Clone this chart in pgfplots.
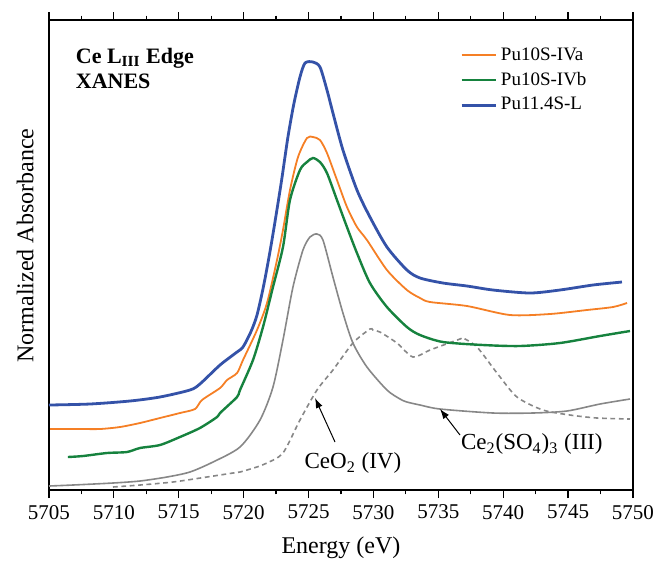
\documentclass[border=0pt]{standalone}
\usepackage{fontspec}
\setmainfont{Liberation Serif}
\usepackage{pgfplots}
\pgfplotsset{compat=1.18}
\usetikzlibrary{arrows.meta}
\definecolor{puorange}{RGB}{245,127,37}
\definecolor{pugreen}{RGB}{22,130,62}
\definecolor{publue}{RGB}{52,82,168}
\definecolor{refgray}{RGB}{135,135,135}

\begin{document}
\begin{tikzpicture}
\begin{axis}[
  width=292pt, height=235pt,
  scale only axis,
  xmin=5705, xmax=5750,
  ymin=0, ymax=470,
  xtick distance=5,
  minor x tick num=1,
  ytick=\empty,
  tick align=outside,
  xtick pos=both,
  major tick length=4pt,
  minor tick length=2.2pt,
  every tick/.style={black, line width=0.6pt},
  axis line style={line width=0.8pt},
  /pgf/number format/1000 sep={},
  /pgf/number format/assume math mode=true,
  ticklabel style={font=\fontsize{10.5}{12}\selectfont},
  xlabel={Energy (eV)},
  xlabel style={font=\fontsize{12}{14}\selectfont, at={(rel axis cs:0.5,-0.123)}, anchor=center},
  ylabel={Normalized Absorbance},
  ylabel style={font=\fontsize{12}{14}\selectfont, at={(rel axis cs:-0.041,0.52)}, anchor=center},
  legend cell align=left,
  legend style={draw=none, fill=none, at={(0.70,0.955)}, anchor=north west,
    font=\fontsize{9.5}{11}\selectfont, row sep=0.5pt, inner sep=1pt},
  legend image code/.code={\draw[#1] (0pt,0pt) -- (17pt,0pt);},
  every axis plot/.append style={smooth, tension=0.45},
]
% reference spectra (no legend entries)
\addplot[refgray, line width=0.8pt, forget plot] coordinates {
  (5705.0,4) (5706.85,5) (5709.93,7) (5712.01,9) (5714.09,13) (5715.86,18)
  (5717.64,28) (5719.72,43) (5721.26,70) (5722.26,103) (5723.03,150)
  (5723.80,203) (5724.57,240) (5725.11,253) (5725.65,256) (5726.11,250)
  (5726.88,213) (5727.65,177) (5728.42,147) (5729.50,123) (5731.04,100)
  (5732.05,91) (5732.58,88) (5733.59,85) (5735.13,81) (5739.21,77)
  (5742.29,77) (5744.91,79) (5747.46,86) (5749.77,91)};
\addplot[refgray, line width=0.8pt, dashed, dash pattern=on 2.4pt off 1.8pt, forget plot] coordinates {
  (5709.93,3) (5712.01,5) (5714.55,8) (5717.17,13) (5719.18,17) (5719.72,18)
  (5721.26,24) (5721.80,27) (5723.03,37) (5724.34,70) (5725.65,100)
  (5726.88,120) (5728.42,147) (5729.73,161) (5729.96,160) (5730.50,158)
  (5731.81,147) (5733.05,133) (5734.36,140) (5736.67,151) (5736.90,152)
  (5737.98,143) (5739.52,117) (5741.06,93) (5743.06,80) (5745.14,75)
  (5747.22,72) (5749.77,71)};
% sample spectra
\addplot[puorange, line width=0.9pt] coordinates {
  (5705.08,61) (5707.39,61) (5708.93,61) (5710.47,63) (5712.01,67)
  (5713.55,72) (5715.09,77) (5716.25,81) (5716.79,90) (5718.18,102)
  (5718.72,110) (5719.49,117) (5719.95,130) (5721.03,160) (5721.80,187)
  (5722.57,230) (5723.03,260) (5723.57,300) (5724.19,333) (5724.88,352)
  (5725.34,353) (5725.88,350) (5726.42,337) (5727.19,310) (5727.96,283)
  (5728.73,263) (5729.50,250) (5731.04,220) (5732.58,200) (5733.59,192)
  (5734.36,188) (5737.21,184) (5740.52,175) (5743.60,176) (5746.45,180)
  (5748.46,183) (5749.54,187)};
\addplot[pugreen, line width=1.2pt] coordinates {
  (5706.46,33) (5707.62,34) (5709.47,37) (5711.01,38) (5712.01,42)
  (5713.55,45) (5715.09,53) (5716.63,62) (5717.95,73) (5718.18,77)
  (5719.49,93) (5719.72,100) (5720.72,130) (5721.49,163) (5722.26,203)
  (5723.03,243) (5723.57,290) (5724.34,320) (5724.88,328) (5725.34,332)
  (5725.88,328) (5726.42,317) (5727.19,290) (5727.96,263) (5728.73,237)
  (5729.73,207) (5731.04,183) (5732.58,163) (5733.59,155) (5735.36,148)
  (5738.44,145) (5741.29,144) (5744.37,147) (5747.46,154) (5749.77,159)};
\addplot[publue, line width=1.4pt] coordinates {
  (5705.0,85) (5708.16,86) (5711.24,89) (5713.55,93) (5715.86,100)
  (5716.63,106) (5718.18,125) (5719.49,138) (5719.95,143) (5720.55,158)
  (5721.03,175) (5721.55,205) (5722.05,240) (5722.50,275) (5722.95,312)
  (5723.40,352) (5723.85,385) (5724.34,413) (5724.73,427) (5725.34,428)
  (5725.88,423) (5726.42,400) (5726.88,377) (5727.65,340) (5728.73,300)
  (5729.73,273) (5731.04,243) (5732.58,220) (5733.59,212) (5735.36,207)
  (5737.21,204) (5739.21,200) (5742.06,197) (5744.37,200) (5746.92,205)
  (5749.15,208)};
\legend{Pu10S-IVa, Pu10S-IVb, Pu11.4S-L}

\node[anchor=north west, align=left, font=\fontsize{11}{12.5}\selectfont\bfseries]
  at (rel axis cs:0.034,0.955) {Ce L\textsubscript{III} Edge\\XANES};

\draw[-{Latex[length=5pt,width=3.5pt]}, line width=0.5pt] (axis cs:5727.04,48) -- (axis cs:5725.50,92);
\node[font=\fontsize{11.5}{13}\selectfont] at (axis cs:5728.42,27) {CeO\textsubscript{2} (IV)};
\draw[-{Latex[length=5pt,width=3.5pt]}, line width=0.5pt] (axis cs:5736.67,55) -- (axis cs:5735.13,81);
\node[font=\fontsize{11.5}{13}\selectfont] at (axis cs:5742.2,46) {Ce\textsubscript{2}(SO\textsubscript{4})\textsubscript{3} (III)};

\coordinate (bl) at (rel axis cs:-0.0839,-0.1532);
\coordinate (tr) at (rel axis cs:1.036,1.0426);
\end{axis}
\pgfresetboundingbox
\path (bl) rectangle (tr);
\end{tikzpicture}
\end{document}
